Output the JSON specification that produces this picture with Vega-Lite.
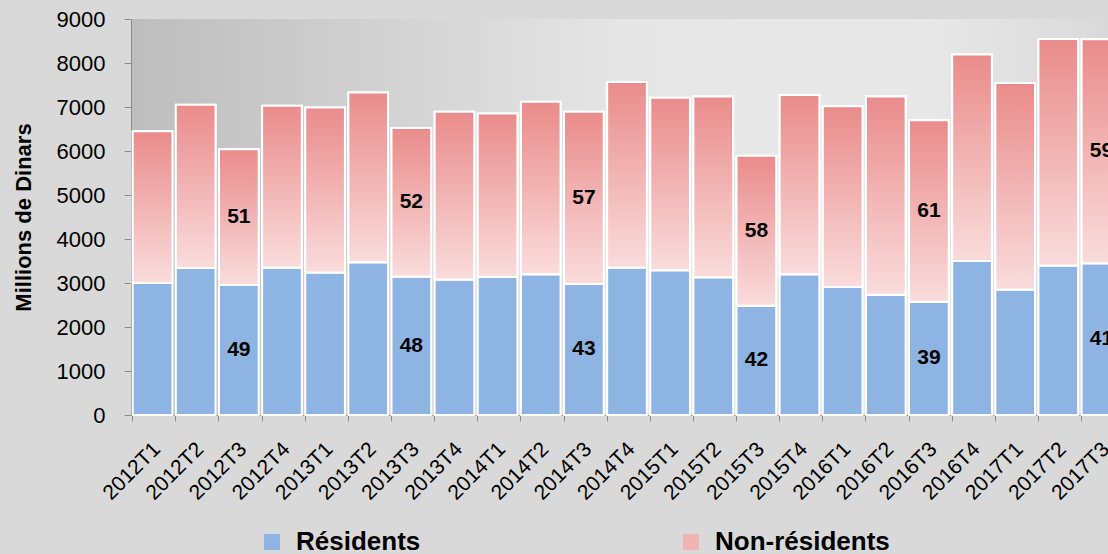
{
  "$schema": "https://vega.github.io/schema/vega-lite/v6.json",
  "width": 992,
  "height": 396,
  "padding": {"left": 12, "top": 8, "right": 0, "bottom": 0},
  "background": "#d9d9d9",
  "config": {
    "view": {"stroke": null, "fill": {"gradient": "linear", "x1": 0, "y1": 0, "x2": 1, "y2": 0, "stops": [{"offset": 0, "color": "#bdbdbd"}, {"offset": 0.5, "color": "#e6e6e6"}, {"offset": 0.8, "color": "#e8e8e8"}, {"offset": 1, "color": "#d8d8d8"}]}},
    "axis": {"grid": false, "domainColor": "#8c8c8c", "tickColor": "#8c8c8c", "labelColor": "#000000", "titleColor": "#000000"}
  },
  "data": {"values": [
    {"q": "2012T1", "s": "Résidents", "v": 3000}, {"q": "2012T1", "s": "Non-résidents", "v": 3450},
    {"q": "2012T2", "s": "Résidents", "v": 3340}, {"q": "2012T2", "s": "Non-résidents", "v": 3710},
    {"q": "2012T3", "s": "Résidents", "v": 2960, "pct": 49}, {"q": "2012T3", "s": "Non-résidents", "v": 3080, "pct": 51},
    {"q": "2012T4", "s": "Résidents", "v": 3350}, {"q": "2012T4", "s": "Non-résidents", "v": 3680},
    {"q": "2013T1", "s": "Résidents", "v": 3240}, {"q": "2013T1", "s": "Non-résidents", "v": 3750},
    {"q": "2013T2", "s": "Résidents", "v": 3470}, {"q": "2013T2", "s": "Non-résidents", "v": 3860},
    {"q": "2013T3", "s": "Résidents", "v": 3150, "pct": 48}, {"q": "2013T3", "s": "Non-résidents", "v": 3370, "pct": 52},
    {"q": "2013T4", "s": "Résidents", "v": 3080}, {"q": "2013T4", "s": "Non-résidents", "v": 3810},
    {"q": "2014T1", "s": "Résidents", "v": 3140}, {"q": "2014T1", "s": "Non-résidents", "v": 3710},
    {"q": "2014T2", "s": "Résidents", "v": 3200}, {"q": "2014T2", "s": "Non-résidents", "v": 3920},
    {"q": "2014T3", "s": "Résidents", "v": 2980, "pct": 43}, {"q": "2014T3", "s": "Non-résidents", "v": 3910, "pct": 57},
    {"q": "2014T4", "s": "Résidents", "v": 3350}, {"q": "2014T4", "s": "Non-résidents", "v": 4220},
    {"q": "2015T1", "s": "Résidents", "v": 3290}, {"q": "2015T1", "s": "Non-résidents", "v": 3920},
    {"q": "2015T2", "s": "Résidents", "v": 3130}, {"q": "2015T2", "s": "Non-résidents", "v": 4110},
    {"q": "2015T3", "s": "Résidents", "v": 2485, "pct": 42}, {"q": "2015T3", "s": "Non-résidents", "v": 3405, "pct": 58},
    {"q": "2015T4", "s": "Résidents", "v": 3200}, {"q": "2015T4", "s": "Non-résidents", "v": 4070},
    {"q": "2016T1", "s": "Résidents", "v": 2910}, {"q": "2016T1", "s": "Non-résidents", "v": 4105},
    {"q": "2016T2", "s": "Résidents", "v": 2735}, {"q": "2016T2", "s": "Non-résidents", "v": 4505},
    {"q": "2016T3", "s": "Résidents", "v": 2575, "pct": 39}, {"q": "2016T3", "s": "Non-résidents", "v": 4125, "pct": 61},
    {"q": "2016T4", "s": "Résidents", "v": 3500}, {"q": "2016T4", "s": "Non-résidents", "v": 4695},
    {"q": "2017T1", "s": "Résidents", "v": 2855}, {"q": "2017T1", "s": "Non-résidents", "v": 4690},
    {"q": "2017T2", "s": "Résidents", "v": 3395}, {"q": "2017T2", "s": "Non-résidents", "v": 5150},
    {"q": "2017T3", "s": "Résidents", "v": 3450, "pct": 41}, {"q": "2017T3", "s": "Non-résidents", "v": 5090, "pct": 59}
  ]},
  "transform": [
    {"stack": "v", "groupby": ["q"], "sort": [{"field": "s", "order": "descending"}], "as": ["v0", "v1"]},
    {"calculate": "(datum.v0 + datum.v1) / 2", "as": "mid"}
  ],
  "encoding": {
    "x": {"field": "q", "type": "ordinal", "sort": null, "title": null,
      "scale": {"paddingInner": 0.08, "paddingOuter": 0.04},
      "axis": {"bandPosition": 0, "labelAngle": -45, "labelOffset": -3, "labelPadding": 17, "tickSize": 6,
        "labelFont": "Liberation Sans", "labelFontSize": 21}},
    "y": {"field": "v1", "type": "quantitative", "title": "Millions de Dinars",
      "scale": {"domain": [0, 9000], "nice": false},
      "axis": {"values": [0, 1000, 2000, 3000, 4000, 5000, 6000, 7000, 8000, 9000], "format": "d", "tickSize": 7, "labelPadding": 19,
        "labelFont": "Liberation Sans", "labelFontSize": 22, "titleFont": "Liberation Sans", "titleFontSize": 22, "titleFontWeight": "bold", "titlePadding": 21}},
    "y2": {"field": "v0"}
  },
  "layer": [
    {
      "mark": {"type": "bar", "stroke": "#ffffff", "strokeWidth": 2},
      "encoding": {
        "color": {"field": "s", "type": "nominal",
          "scale": {"domain": ["Résidents", "Non-résidents"], "range": ["#8db4e2", "#f2b3b3"]},
          "legend": {"title": null, "orient": "none", "legendX": 128, "legendY": 510, "direction": "horizontal", "columns": 2, "columnPadding": 257,
            "symbolType": "square", "symbolSize": 256, "symbolStrokeColor": "#ffffff", "symbolStrokeWidth": 1, "labelOffset": 11, "labelLimit": 400,
            "labelFont": "Liberation Sans", "labelFontSize": 26, "labelFontWeight": "bold", "labelColor": "#000000", "padding": 0,
            "encode": {"symbols": {"update": {"fill": {"signal": "datum.value === 'Non-résidents' ? {gradient: 'linear', x1: 0, y1: 0, x2: 0, y2: 1, stops: [{offset: 0, color: '#ea8b8b'}, {offset: 1, color: '#fadcdc'}]} : '#8db4e2'"}}}}}
        }
      }
    },
    {
      "transform": [{"filter": "datum.s === 'Non-résidents'"}],
      "mark": {"type": "bar", "stroke": "#ffffff", "strokeWidth": 2, "fill": {"gradient": "linear", "x1": 0, "y1": 0, "x2": 0, "y2": 1, "stops": [{"offset": 0, "color": "#ea8b8b"}, {"offset": 1, "color": "#fadcdc"}]}}
    },
    {
      "transform": [{"filter": "isValid(datum.pct)"}],
      "mark": {"type": "text", "font": "Liberation Sans", "fontSize": 21, "fontWeight": "bold", "color": "#000000", "baseline": "middle", "align": "center"},
      "encoding": {
        "y": {"field": "mid", "type": "quantitative"},
        "y2": null,
        "text": {"field": "pct", "type": "quantitative"}
      }
    }
  ]
}
